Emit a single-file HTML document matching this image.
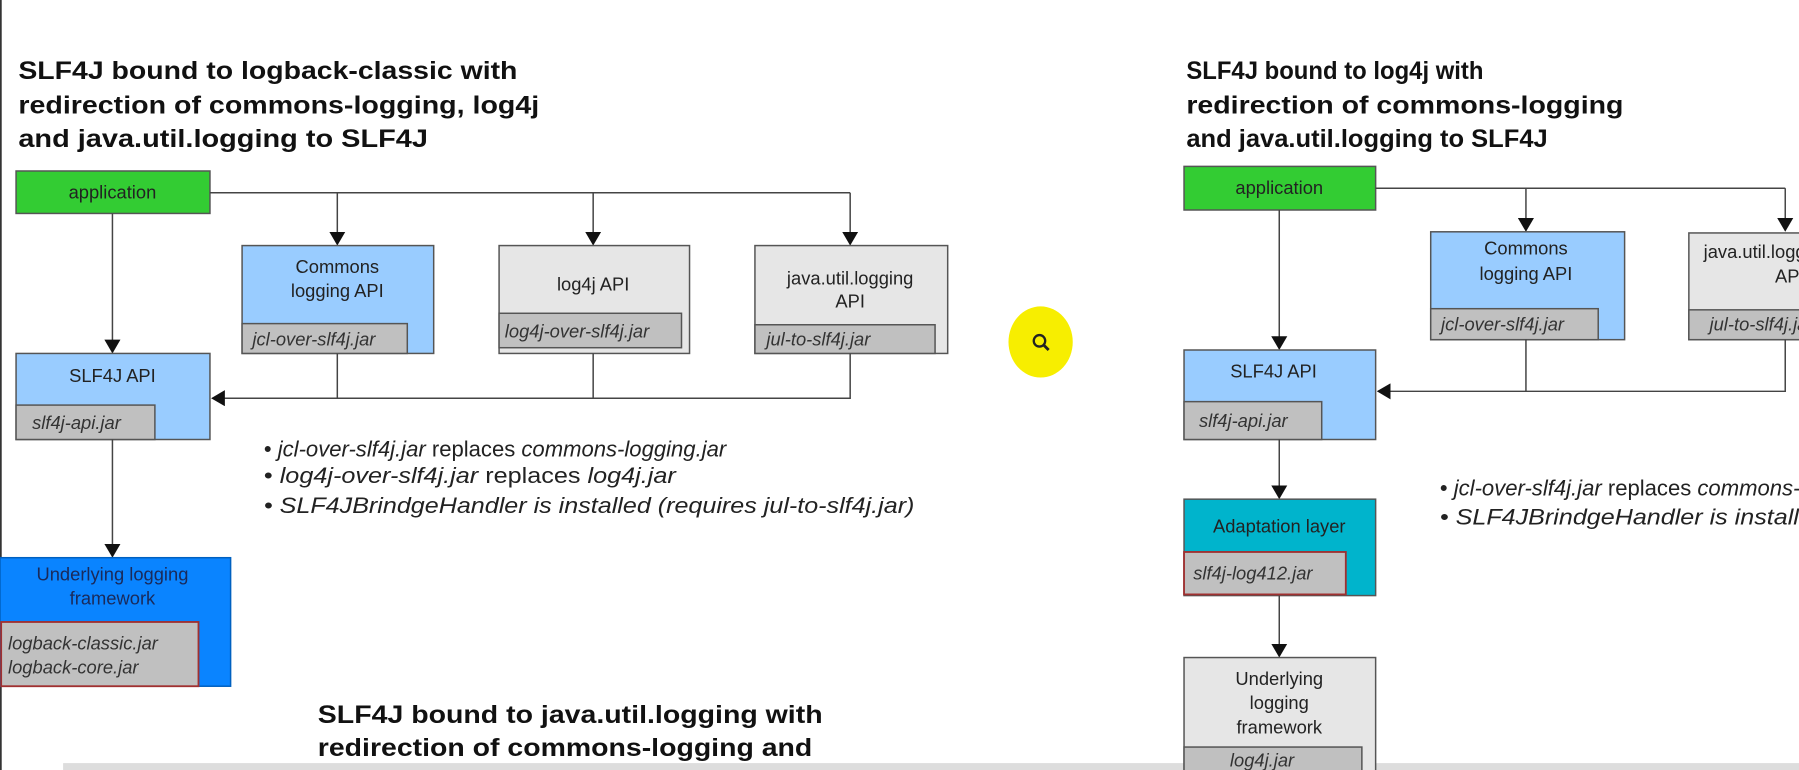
<!DOCTYPE html>
<html><head><meta charset="utf-8"><style>
html,body{margin:0;padding:0;background:#fff;width:1799px;height:770px;overflow:hidden}
svg{display:block}
text{font-family:"Liberation Sans",Arial,sans-serif}
.t{font-weight:bold;font-size:22px;fill:#111}
.b{font-size:16px;fill:#222;text-anchor:middle}
.j{font-size:16px;font-style:italic;fill:#333}
.u{font-size:19px;fill:#222}
.l{stroke:#444;stroke-width:1.3;fill:none}
.bx{stroke:#555;stroke-width:1.3}
</style></head><body>
<svg width="1799" height="770" viewBox="0 0 1568 671" preserveAspectRatio="none">
<defs><marker id="a" markerWidth="12" markerHeight="14" refX="11" refY="7" orient="auto" markerUnits="userSpaceOnUse"><path d="M0,0 L12,7 L0,14 z" fill="#111"/></marker></defs>
<rect x="0" y="0" width="1.5" height="671" fill="#333"/>
<rect x="55" y="665" width="1513" height="6" fill="#ddd"/>

<!-- LEFT -->
<text class="t" x="16" y="69" textLength="435" lengthAdjust="spacingAndGlyphs">SLF4J bound to logback-classic with</text>
<text class="t" x="16" y="99" textLength="454" lengthAdjust="spacingAndGlyphs">redirection of commons-logging, log4j</text>
<text class="t" x="16" y="128" textLength="357" lengthAdjust="spacingAndGlyphs">and java.util.logging to SLF4J</text>

<rect class="bx" x="14" y="149" width="169" height="37" fill="#33cc33" stroke="#1f7a1f"/>
<text class="b" x="98" y="173">application</text>

<path class="l" d="M183,168 H741"/>
<path class="l" d="M294,168 V213" marker-end="url(#a)"/>
<path class="l" d="M517,168 V213" marker-end="url(#a)"/>
<path class="l" d="M741,168 V213" marker-end="url(#a)"/>

<rect class="bx" x="211" y="214" width="167" height="94" fill="#99ccff"/>
<text class="b" x="294" y="238">Commons</text><text class="b" x="294" y="259">logging API</text>
<rect class="bx" x="211" y="282" width="144" height="26" fill="#c0c0c0"/>
<text class="j" x="220" y="301">jcl-over-slf4j.jar</text>

<rect class="bx" x="435" y="214" width="166" height="94" fill="#e6e6e6"/>
<text class="b" x="517" y="253">log4j API</text>
<rect class="bx" x="435" y="273" width="159" height="30" fill="#c0c0c0"/>
<text class="j" x="440" y="294">log4j-over-slf4j.jar</text>

<rect class="bx" x="658" y="214" width="168" height="94" fill="#e6e6e6"/>
<text class="b" x="741" y="248">java.util.logging</text><text class="b" x="741" y="268">API</text>
<rect class="bx" x="658" y="283" width="157" height="25" fill="#c0c0c0"/>
<text class="j" x="668" y="301">jul-to-slf4j.jar</text>

<path class="l" d="M294,308 V347 M517,308 V347 M741,308 V347 H185" marker-end="url(#a)"/>
<path class="l" d="M98,186 V307" marker-end="url(#a)"/>

<rect class="bx" x="14" y="308" width="169" height="75" fill="#99ccff"/>
<text class="b" x="98" y="333">SLF4J API</text>
<rect class="bx" x="14" y="353" width="121" height="30" fill="#c0c0c0"/>
<text class="j" x="28" y="374">slf4j-api.jar</text>

<path class="l" d="M98,383 V485" marker-end="url(#a)"/>
<rect x="0" y="486" width="201" height="112" fill="#0a84ff" stroke="#0060c0" stroke-width="1.3"/>
<text class="b" x="98" y="506" style="fill:#1a2a5a">Underlying logging</text>
<text class="b" x="98" y="527" style="fill:#1a2a5a">framework</text>
<rect x="1" y="542" width="172" height="56" fill="#c0c0c0" stroke="#a03030" stroke-width="1.6"/>
<text class="j" x="7" y="566">logback-classic.jar</text>
<text class="j" x="7" y="587">logback-core.jar</text>

<text class="u" x="230" y="398" textLength="403" lengthAdjust="spacingAndGlyphs">• <tspan font-style="italic">jcl-over-slf4j.jar</tspan> replaces <tspan font-style="italic">commons-logging.jar</tspan></text>
<text class="u" x="230" y="421" textLength="359" lengthAdjust="spacingAndGlyphs">• <tspan font-style="italic">log4j-over-slf4j.jar</tspan> replaces <tspan font-style="italic">log4j.jar</tspan></text>
<text class="u" x="230" y="447" font-style="italic" textLength="567" lengthAdjust="spacingAndGlyphs">• SLF4JBrindgeHandler is installed (requires jul-to-slf4j.jar)</text>

<text class="t" x="277" y="630" textLength="440" lengthAdjust="spacingAndGlyphs">SLF4J bound to java.util.logging with</text>
<text class="t" x="277" y="659" textLength="431" lengthAdjust="spacingAndGlyphs">redirection of commons-logging and</text>

<!-- yellow cursor -->
<ellipse cx="907" cy="298" rx="28" ry="31" fill="#f7ee00"/>
<circle cx="906" cy="297" r="5" fill="none" stroke="#222" stroke-width="2"/>
<path d="M909,300 L914,305" stroke="#222" stroke-width="2.5"/>

<!-- RIGHT -->
<text class="t" x="1034" y="69" textLength="259" lengthAdjust="spacingAndGlyphs">SLF4J bound to log4j with</text>
<text class="t" x="1034" y="99" textLength="381" lengthAdjust="spacingAndGlyphs">redirection of commons-logging</text>
<text class="t" x="1034" y="128" textLength="315" lengthAdjust="spacingAndGlyphs">and java.util.logging to SLF4J</text>

<rect class="bx" x="1032" y="145" width="167" height="38" fill="#33cc33" stroke="#1f7a1f"/>
<text class="b" x="1115" y="169">application</text>
<path class="l" d="M1199,164 H1556"/>
<path class="l" d="M1330,164 V201" marker-end="url(#a)"/>
<path class="l" d="M1556,164 V201" marker-end="url(#a)"/>

<rect class="bx" x="1247" y="202" width="169" height="94" fill="#99ccff"/>
<text class="b" x="1330" y="222">Commons</text><text class="b" x="1330" y="244">logging API</text>
<rect class="bx" x="1247" y="269" width="146" height="27" fill="#c0c0c0"/>
<text class="j" x="1256" y="288">jcl-over-slf4j.jar</text>

<rect class="bx" x="1472" y="203" width="110" height="93" fill="#e6e6e6"/>
<text class="b" x="1540" y="225">java.util.logging</text><text class="b" x="1560" y="246">API</text>
<rect class="bx" x="1472" y="270" width="110" height="26" fill="#c0c0c0"/>
<text class="j" x="1490" y="288">jul-to-slf4j.jar</text>

<path class="l" d="M1330,296 V341 M1556,296 V341 H1201" marker-end="url(#a)"/>
<path class="l" d="M1115,183 V304" marker-end="url(#a)"/>

<rect class="bx" x="1032" y="305" width="167" height="78" fill="#99ccff"/>
<text class="b" x="1110" y="329">SLF4J API</text>
<rect class="bx" x="1032" y="350" width="120" height="33" fill="#c0c0c0"/>
<text class="j" x="1045" y="372">slf4j-api.jar</text>

<path class="l" d="M1115,383 V434" marker-end="url(#a)"/>
<rect class="bx" x="1032" y="435" width="167" height="84" fill="#00b4cc"/>
<text class="b" x="1115" y="464">Adaptation layer</text>
<rect x="1032" y="481" width="141" height="37" fill="#c0c0c0" stroke="#a03030" stroke-width="1.6"/>
<text class="j" x="1040" y="505">slf4j-log412.jar</text>

<path class="l" d="M1115,519 V572" marker-end="url(#a)"/>
<rect class="bx" x="1032" y="573" width="167" height="110" fill="#e6e6e6"/>
<text class="b" x="1115" y="597">Underlying</text>
<text class="b" x="1115" y="618">logging</text>
<text class="b" x="1115" y="639">framework</text>
<rect class="bx" x="1032" y="651" width="155" height="30" fill="#c0c0c0"/>
<text class="j" x="1072" y="668">log4j.jar</text>

<text class="u" x="1255" y="432" textLength="403" lengthAdjust="spacingAndGlyphs">• <tspan font-style="italic">jcl-over-slf4j.jar</tspan> replaces <tspan font-style="italic">commons-logging.jar</tspan></text>
<text class="u" x="1255" y="457" font-style="italic" textLength="567" lengthAdjust="spacingAndGlyphs">• SLF4JBrindgeHandler is installed (requires jul-to-slf4j.jar)</text>
</svg>
</body></html>
